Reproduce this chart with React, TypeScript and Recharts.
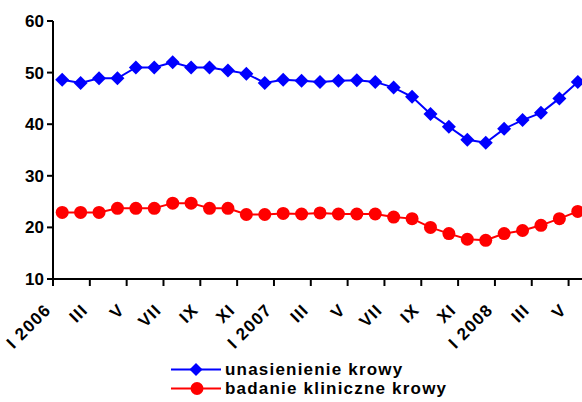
import { Line, LineChart, XAxis, YAxis } from 'recharts'

// Jan 2006 .. May 2008, monthly
const months = [
  'I 2006', 'II', 'III', 'IV', 'V', 'VI', 'VII', 'VIII', 'IX', 'X', 'XI', 'XII',
  'I 2007', 'II', 'III', 'IV', 'V', 'VI', 'VII', 'VIII', 'IX', 'X', 'XI', 'XII',
  'I 2008', 'II', 'III', 'IV', 'V',
]

const unasienienie = [
  48.6, 48.0, 48.9, 48.9, 51.0, 51.0, 52.0, 51.0, 51.0, 50.4, 49.8, 48.0,
  48.6, 48.4, 48.2, 48.4, 48.5, 48.2, 47.1, 45.3, 42.0, 39.5, 37.0, 36.4,
  39.1, 40.8, 42.2, 45.0, 48.2,
]

const badanie = [
  22.9, 22.9, 22.9, 23.7, 23.7, 23.7, 24.7, 24.7, 23.7, 23.7, 22.5, 22.5,
  22.7, 22.6, 22.8, 22.6, 22.6, 22.6, 22.0, 21.7, 20.0, 18.8, 17.7, 17.5,
  18.8, 19.4, 20.4, 21.7, 23.1,
]

const yTicks = [10, 20, 30, 40, 50, 60]
// tick marks sit on category boundaries, every second month
const xTicks = months.filter((_, i) => i % 2 === 0).map((_, k) => k * 2 - 0.5)

const chartData = months.map((m, i) => ({
  i,
  month: m,
  unasienienie: unasienienie[i],
  badanie: badanie[i],
}))

const font = '"Liberation Sans", Arial, sans-serif'

// rotated month label, right end just left of the category centre
const MonthTick = ({ x, y, payload }: any) => (
  <g transform={`translate(${x - 1}, ${y + 23}) rotate(-45)`}>
    <text
      x={0}
      y={0}
      textAnchor='end'
      fontFamily={font}
      fontWeight='bold'
      fontSize={17}
      letterSpacing={1.2}
      fill='#000'
    >
      {months[payload.value + 0.5]}
    </text>
  </g>
)

const Diamond = ({ cx, cy, index }: any) => (
  <polygon
    key={index}
    points={`${cx},${cy - 7} ${cx + 7},${cy} ${cx},${cy + 7} ${cx - 7},${cy}`}
    fill='#0000ff'
  />
)

const LegendRow = ({ color, marker, text }: { color: string; marker: 'diamond' | 'circle'; text: string }) => (
  <div style={{ display: 'flex', alignItems: 'center', height: 19 }}>
    <svg width={50} height={19}>
      <line x1={0} y1={9.5} x2={50} y2={9.5} stroke={color} strokeWidth={2} />
      {marker === 'diamond' ? (
        <polygon points='25,3 31.5,9.5 25,16 18.5,9.5' fill={color} />
      ) : (
        <circle cx={26} cy={9.5} r={6.5} fill={color} />
      )}
    </svg>
    <span
      style={{
        marginLeft: 4,
        fontFamily: font,
        fontWeight: 'bold',
        fontSize: 17,
        letterSpacing: 1.2,
        lineHeight: '19px',
        color: '#000',
      }}
    >
      {text}
    </span>
  </div>
)

export default function App() {
  return (
    <div
      style={{
        position: 'fixed',
        left: 0,
        top: 0,
        width: 582,
        height: 402,
        overflow: 'hidden',
        background: '#fff',
      }}
    >
      <LineChart
        width={590}
        height={402}
        data={chartData}
        margin={{ top: 21, right: 3, left: 0, bottom: 63 }}
      >
        <XAxis
          dataKey='i'
          type='number'
          domain={[-0.5, 28.5]}
          ticks={xTicks}
          interval={0}
          height={60}
          tickSize={7}
          tickMargin={2}
          axisLine={{ stroke: '#000', strokeWidth: 2 }}
          tickLine={{ stroke: '#000', strokeWidth: 2 }}
          tick={<MonthTick />}
        />
        <YAxis
          domain={[10, 60]}
          ticks={yTicks}
          interval={0}
          width={53}
          tickSize={6}
          tickMargin={3}
          axisLine={{ stroke: '#000', strokeWidth: 2 }}
          tickLine={{ stroke: '#000', strokeWidth: 2 }}
          tick={{ fontFamily: font, fontWeight: 'bold', fontSize: 17, fill: '#000' }}
        />
        <Line
          dataKey='unasienienie'
          stroke='#0000ff'
          strokeWidth={2}
          dot={<Diamond />}
          activeDot={false}
          isAnimationActive={false}
        />
        <Line
          dataKey='badanie'
          stroke='#ff0000'
          strokeWidth={2}
          dot={{ r: 6.5, fill: '#ff0000', stroke: '#ff0000', strokeWidth: 0 }}
          activeDot={false}
          isAnimationActive={false}
        />
      </LineChart>
      <div style={{ position: 'absolute', left: 171, top: 360 }}>
        <LegendRow color='#0000ff' marker='diamond' text='unasienienie krowy' />
        <LegendRow color='#ff0000' marker='circle' text='badanie kliniczne krowy' />
      </div>
    </div>
  )
}
